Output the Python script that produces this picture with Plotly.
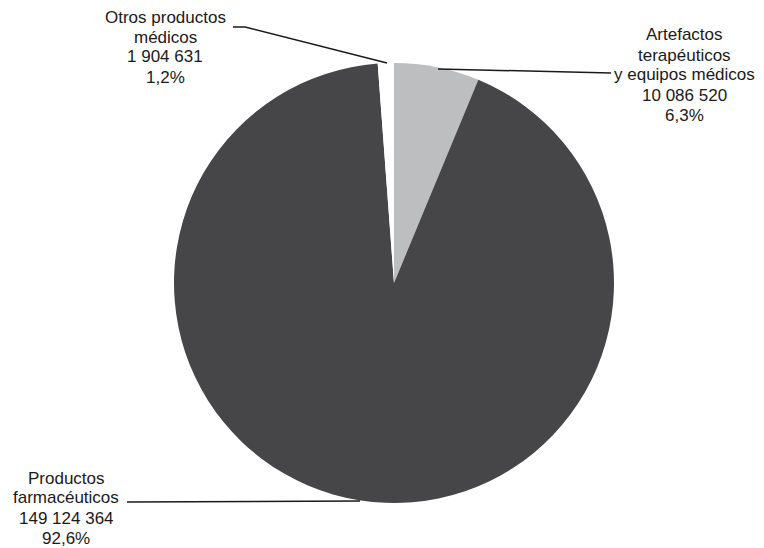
import plotly.graph_objects as go

# Gasto por tipo de producto médico
categories = ["Artefactos terapéuticos y equipos médicos",
              "Productos farmacéuticos",
              "Otros productos médicos"]
label_lines = [["Artefactos", "terapéuticos", "y equipos médicos"],
               ["Productos", "farmacéuticos"],
               ["Otros productos", "médicos"]]
values = [10086520, 149124364, 1904631]
colors = ["#bdbec0", "#464648", "#ffffff"]

W, H = 764, 548
cx, cy, r = 394, 283, 220

total = sum(values)


def fmt_int(v):
    return f"{v:,}".replace(",", " ")


def fmt_pct(v):
    return f"{100 * v / total:.1f}%".replace(".", ",")


fig = go.Figure(go.Pie(
    labels=categories,
    values=values,
    sort=False,
    direction="clockwise",
    rotation=0,
    textinfo="none",
    hoverinfo="label+value+percent",
    marker=dict(colors=colors, line=dict(width=0)),
    domain=dict(x=[(cx - r) / W, (cx + r) / W],
                y=[1 - (cy + r) / H, 1 - (cy - r) / H]),
    showlegend=False,
))

# label block positions (centre x, first line y, line step) in pixels
label_pos = [(684, 35, 20), (66, 478, 20), (165, 17, 20)]
# leader lines as pixel polylines
leaders = [
    [(438, 69), (611, 73)],
    [(127, 502), (360, 501)],
    [(233, 27), (245, 27), (387, 63)],
]

annotations = []
for lines, v, (lx, ly, step) in zip(label_lines, values, label_pos):
    texts = lines + [fmt_int(v), fmt_pct(v)]
    for i, t in enumerate(texts):
        annotations.append(dict(
            text=t, x=lx / W, y=1 - (ly + i * step) / H,
            xref="paper", yref="paper", xanchor="center", yanchor="middle",
            showarrow=False, borderpad=0,
            font=dict(family="Liberation Sans, Arial, sans-serif", size=17, color="#1a1a1a"),
        ))

shapes = []
for pts in leaders:
    path = "M " + " L ".join(f"{x / W},{1 - y / H}" for x, y in pts)
    shapes.append(dict(type="path", path=path, xref="paper", yref="paper",
                       line=dict(color="#1a1a1a", width=1.5)))

fig.update_layout(
    width=W, height=H,
    margin=dict(l=0, r=0, t=0, b=0),
    paper_bgcolor="white", plot_bgcolor="white",
    annotations=annotations,
    shapes=shapes,
)

fig.write_html("out.html")
